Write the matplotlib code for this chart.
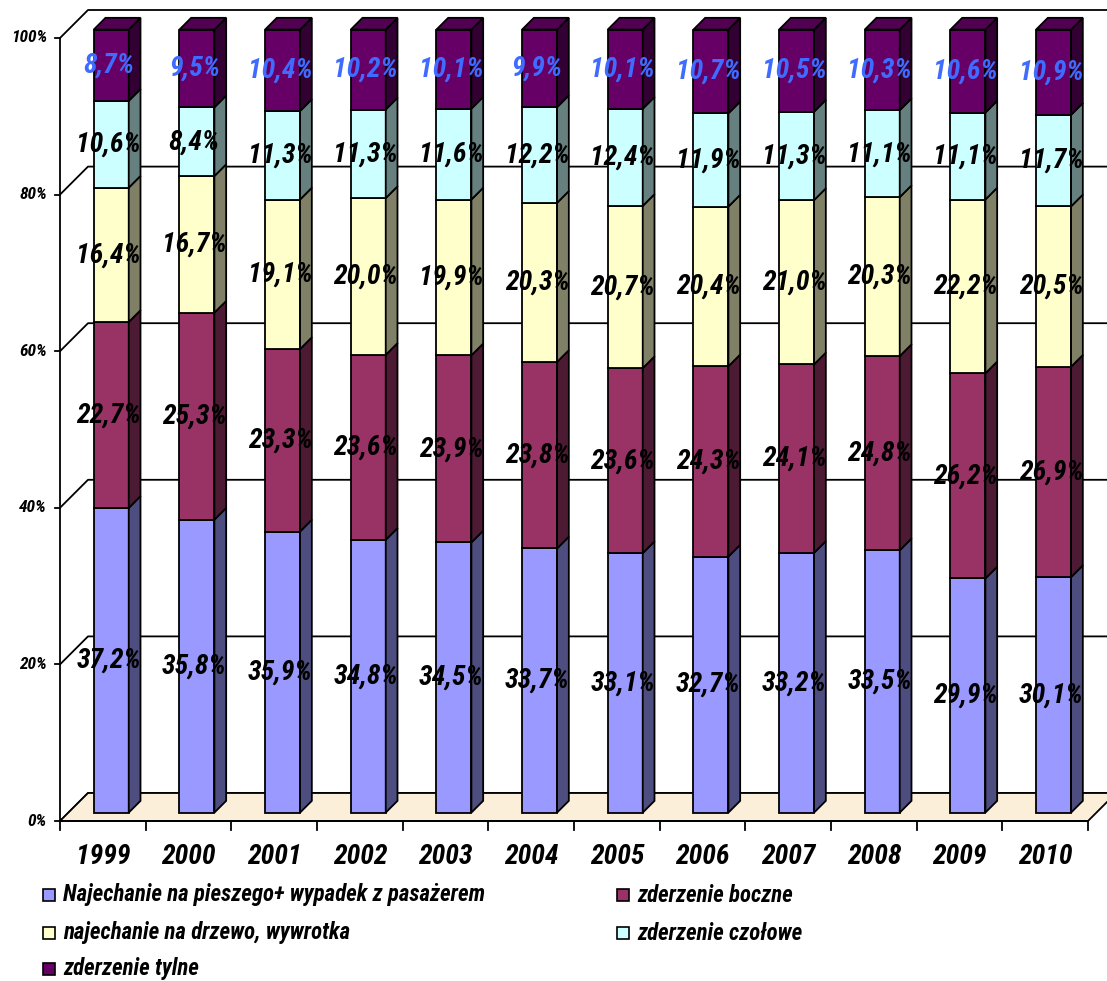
import matplotlib
matplotlib.use("Agg")
import matplotlib.pyplot as plt
from matplotlib.patches import Polygon, Rectangle
import numpy as np

# ======= DATA ==========
years = ["1999", "2000", "2001", "2002", "2003", "2004",
         "2005", "2006", "2007", "2008", "2009", "2010"]
pieszy = [37.2, 35.8, 35.9, 34.8, 34.5, 33.7, 33.1, 32.7, 33.2, 33.5, 29.9, 30.1]
boczne = [22.7, 25.3, 23.3, 23.6, 23.9, 23.8, 23.6, 24.3, 24.1, 24.8, 26.2, 26.9]
drzewo = [16.4, 16.7, 19.1, 20.0, 19.9, 20.3, 20.7, 20.4, 21.0, 20.3, 22.2, 20.5]
czolowe = [10.6, 8.4, 11.3, 11.3, 11.6, 12.2, 12.4, 11.9, 11.3, 11.1, 11.1, 11.7]
tylne = [8.7, 9.5, 10.4, 10.2, 10.1, 9.9, 10.1, 10.7, 10.5, 10.3, 10.6, 10.9]

nazwy = ["Najechanie na pieszego+ wypadek z pasażerem", "zderzenie boczne",
         "najechanie na drzewo, wywrotka", "zderzenie czołowe", "zderzenie tylne"]
kolory = ["#9999FF", "#993366", "#FFFFCC", "#CCFFFF", "#660066"]
kolory_bok = ["#4D4D80", "#4D1A33", "#808066", "#668080", "#330033"]
kolor_gora = "#520052"
y_ticks = [0, 20, 40, 60, 80, 100]
# ================================

FONT = ["Liberation Sans Narrow", "Roboto Condensed", "DejaVu Sans Condensed",
        "Liberation Sans"]
plt.rcParams["font.family"] = FONT

W, H = 1107, 981
fig = plt.figure(figsize=(W / 100, H / 100), dpi=100)
ax = fig.add_axes([0, 0, 1, 1])

# pixel layout -> data units
x0_px, x1_px = 60, 1088
y0_px, y100_px = 821, 38
cat_px = (x1_px - x0_px) / len(years)
pct_px = (y0_px - y100_px) / 100
ax.set_xlim(-x0_px / cat_px, (W - x0_px) / cat_px)
ax.set_ylim((y0_px - H) / pct_px, y0_px / pct_px)
ax.axis("off")

dx = 28 / cat_px        # depth offset
dy = 28 / pct_px
f0, f1 = 0.30, 0.72     # bar front / back in depth
bw = 35 / cat_px
n = len(years)
lw = 1.3

# floor
ax.add_patch(Polygon([(0, 0), (n, 0), (n + dx, dy), (dx, dy)], closed=True,
                     facecolor="#FCEFDA", edgecolor="black", lw=lw, zorder=1))
# gridlines on back wall and left wall
for t in y_ticks:
    ax.plot([0, dx, n + dx + 1], [t, t + dy, t + dy], color="black", lw=lw, zorder=0.5)
# axes lines
ax.plot([0, 0], [0, 100], color="black", lw=lw, zorder=2)
ax.plot([0, n], [0, 0], color="black", lw=lw, zorder=2)
for t in y_ticks:
    ax.plot([-5 / cat_px, 0], [t, t], color="black", lw=lw, zorder=2)
    ax.text(-13 / cat_px, t, f"{t}%", ha="right", va="center", fontsize=12.5,
            fontweight="bold", fontstyle="italic")
for i in range(n + 1):
    ax.plot([i, i], [0, -9 / pct_px], color="black", lw=lw, zorder=2)
for i, yr in enumerate(years):
    ax.text(i + 0.5, -4.5, yr, ha="center", va="center", fontsize=20,
            fontweight="bold", fontstyle="italic")

# stacked bars (normalised to 100%)
serie = np.array([pieszy, boczne, drzewo, czolowe, tylne])
norm = serie / serie.sum(axis=0) * 100
dd = (f1 - f0)
for i in range(n):
    xl = i + 0.5 - bw / 2 + f0 * dx
    xr = xl + bw
    bottom = f0 * dy
    for s in range(len(serie)):
        h = norm[s, i]
        y1 = bottom + h
        ax.bar(xl, h, width=bw, bottom=bottom, align="edge", color=kolory[s],
               edgecolor="black", lw=lw, zorder=3)
        ax.add_patch(Polygon([(xr, bottom), (xr + dd * dx, bottom + dd * dy),
                              (xr + dd * dx, y1 + dd * dy), (xr, y1)], closed=True,
                             facecolor=kolory_bok[s], edgecolor="black", lw=lw, zorder=3))
        if s == len(serie) - 1:
            ax.add_patch(Polygon([(xl, y1), (xr, y1), (xr + dd * dx, y1 + dd * dy),
                                  (xl + dd * dx, y1 + dd * dy)], closed=True,
                                 facecolor=kolor_gora, edgecolor="black", lw=lw, zorder=3))
        kol = "#3F6CFF" if s == len(serie) - 1 else "black"
        ax.text(xl + bw / 2 - 0.03, bottom + h / 2, f"{serie[s, i]:.1f}%".replace(".", ","),
                ha="center", va="center", fontsize=20, fontweight="bold",
                fontstyle="italic", color=kol, zorder=5)
        bottom = y1

# legend (rows: 2 columns, Excel order)
pozycje = [(43, 895), (617, 895), (43, 933), (617, 933), (43, 969)]
for (px, py), nazwa, kol in zip(pozycje, nazwy, kolory):
    fig.patches.append(Rectangle((px / W, 1 - (py + 6) / H), 12 / W, 12 / H,
                                 transform=fig.transFigure, facecolor=kol,
                                 edgecolor="black", lw=1.2))
    fig.text((px + 20) / W, 1 - py / H, nazwa, ha="left", va="center", fontsize=16.5,
             fontweight="bold", fontstyle="italic")

fig.savefig("out.png", dpi=100)
